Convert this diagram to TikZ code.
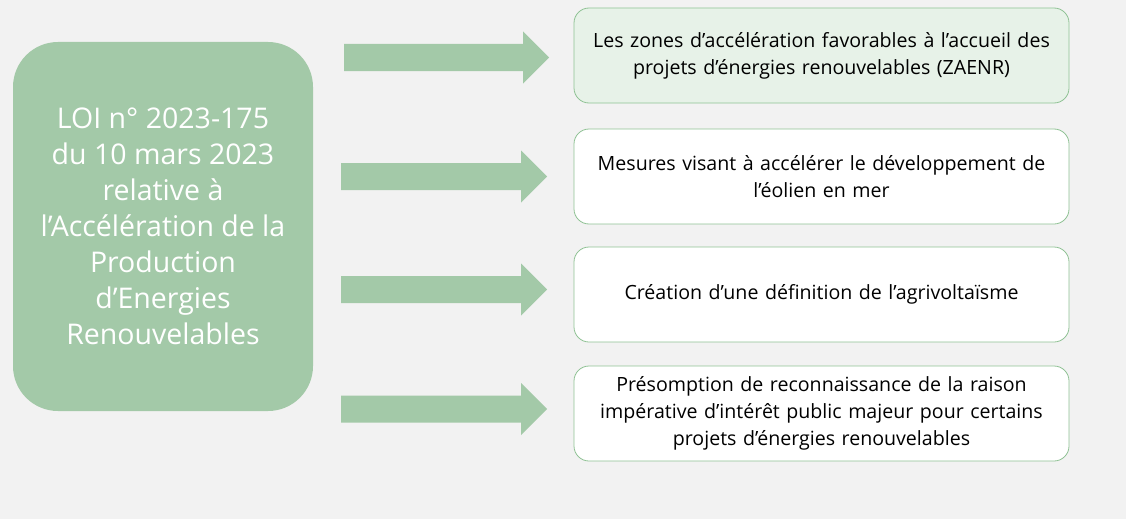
\documentclass[tikz,border=0pt]{standalone}
\usepackage{fontspec}
\setmainfont{Open Sans}
\definecolor{bg}{HTML}{F2F2F2}
\definecolor{grn}{HTML}{A3C9A8}
\definecolor{grnline}{HTML}{8FC294}
\definecolor{lightgrn}{HTML}{E7F2E8}
\newcommand\blkarrow[3]{%
  \fill[grn] (#1,#3-13.5) -- (#2-26,#3-13.5) -- (#2-26,#3-26) -- (#2,#3) -- (#2-26,#3+26) -- (#2-26,#3+13.5) -- (#1,#3+13.5) -- cycle;}
\begin{document}
\begin{tikzpicture}[x=1pt,y=-1pt,
  lawbox/.style={fill=grn, draw=none, rounded corners=45pt, minimum width=300pt, minimum height=369pt,
    text=white, align=center, font=\fontsize{28.5}{36}\selectfont, inner sep=0pt},
  itembox/.style={draw=grnline, line width=0.8pt, fill=white, rounded corners=15pt, minimum width=495pt, minimum height=95pt,
    text width=488pt, align=center, text=black, font=\fontsize{19.6}{27}\selectfont, inner sep=0pt}]
\fill[bg] (0,0) rectangle (1126,519);
\useasboundingbox (0,0) rectangle (1126,519);
\node[lawbox] (law) at (163,226.5) {LOI n° 2023-175\\du 10 mars 2023\\relative à\\l’Accélération de la\\Production\\d’Energies\\Renouvelables};
\node[itembox, fill=lightgrn] (b1) at (821.5,55.5) {Les zones d’accélération favorables à l’accueil des\\projets d’énergies renouvelables (ZAENR)};
\node[itembox] (b2) at (821.5,176.5) {Mesures visant à accélérer le développement de\\l’éolien en mer};
\node[itembox] (b3) at (821.5,294.5) {Création d’une définition de l’agrivoltaïsme};
\node[itembox] (b4) at (821.5,413.5) {Présomption de reconnaissance de la raison\\impérative d’intérêt public majeur pour certains\\projets d’énergies renouvelables};
\blkarrow{344}{549}{57.5}
\blkarrow{341}{547}{176.5}
\blkarrow{341}{547}{289.5}
\blkarrow{341}{547}{409}
\end{tikzpicture}
\end{document}
